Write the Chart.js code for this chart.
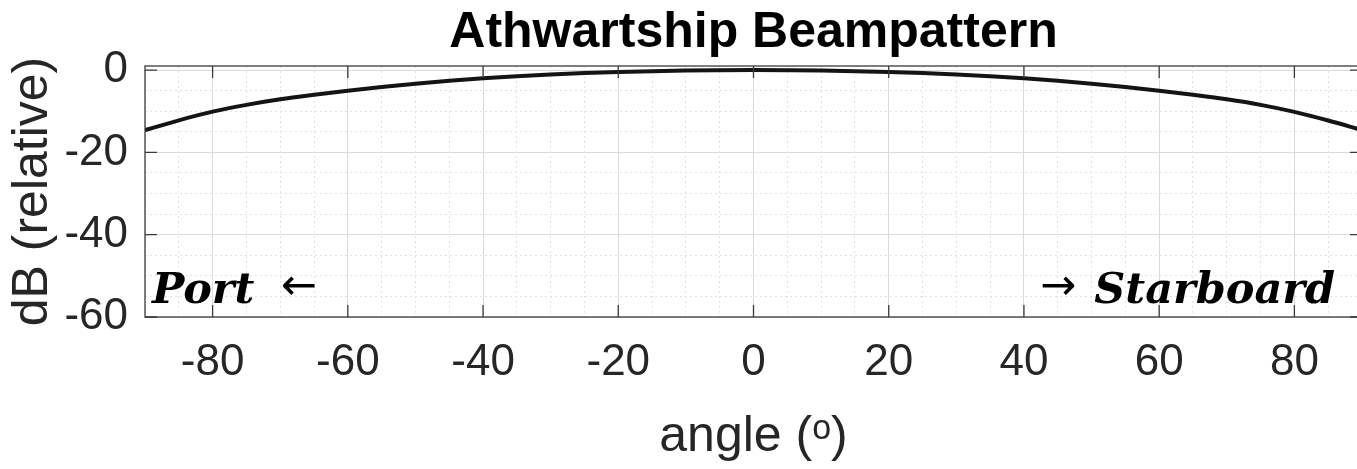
<!DOCTYPE html>
<html>
<head>
<meta charset="utf-8">
<script src="https://cdn.jsdelivr.net/npm/chart.js@4"></script>
<style>
  html, body { margin: 0; padding: 0; background: #fff; overflow: hidden; }
  .wrap { width: 1381px; height: 469px; position: relative; }
  canvas { display: block; }
</style>
</head>
<body>
<div class="wrap"><canvas id="beamChart" width="1381" height="469"></canvas></div>
<script>
// angle in degrees, response in dB relative to peak
const angles = [-90, -85, -80, -75, -70, -65, -60, -55, -50, -45, -40, -35, -30, -25, -20, -15, -10, -5,
                0, 5, 10, 15, 20, 25, 30, 35, 40, 45, 50, 55, 60, 65, 70, 75, 80, 85, 90];
const levels = [-14.6, -12.2, -10.1, -8.45, -7.1, -6.0, -5.0, -4.1, -3.3, -2.6, -2.0, -1.5, -1.05, -0.7, -0.45, -0.25, -0.1, -0.03,
                0, -0.03, -0.1, -0.25, -0.45, -0.7, -1.05, -1.5, -2.0, -2.6, -3.3, -4.1, -5.0, -6.0, -7.1, -8.45, -10.15, -12.25, -14.6];
const xTicks = [-80, -60, -40, -20, 0, 20, 40, 60, 80];
const yTicks = [0, -20, -40, -60];

const textColor = '#262626';
const sans = "'Liberation Sans', Arial, sans-serif";

// MATLAB-style box with inward ticks plus the side labels
const boxPlugin = {
    id: 'boxPlugin',
    afterDatasetsDraw(chart) {
        const { ctx, chartArea: a, scales } = chart;
        ctx.save();
        ctx.strokeStyle = '#3a3a3a';
        ctx.lineWidth = 1.3;
        ctx.strokeRect(a.left, a.top, a.right - a.left, a.bottom - a.top);

        const tl = 12;
        ctx.beginPath();
        xTicks.forEach(v => {
            const px = scales.x.getPixelForValue(v);
            ctx.moveTo(px, a.bottom); ctx.lineTo(px, a.bottom - tl);
            ctx.moveTo(px, a.top); ctx.lineTo(px, a.top + tl);
        });
        yTicks.forEach(v => {
            const py = scales.y.getPixelForValue(v);
            ctx.moveTo(a.left, py); ctx.lineTo(a.left + tl, py);
            ctx.moveTo(a.right, py); ctx.lineTo(a.right - tl, py);
        });
        ctx.stroke();

        // side labels
        const base = a.bottom - 14;
        ctx.fillStyle = '#000';
        ctx.textBaseline = 'alphabetic';
        ctx.font = "italic bold 43px 'DejaVu Serif', serif";
        ctx.textAlign = 'left';
        ctx.fillText('Port', a.left + 7, base);
        ctx.textAlign = 'right';
        ctx.fillText('Starboard', a.right - 27, base);
        const sw = ctx.measureText('Starboard').width;

        ctx.font = "43px 'DejaVu Sans', sans-serif";
        ctx.textAlign = 'left';
        ctx.fillText('\u2190', a.left + 136, base - 4);
        ctx.textAlign = 'right';
        ctx.fillText('\u2192', a.right - 27 - sw - 18, base - 4);
        ctx.restore();
    }
};

const gridColor = (c) => (c.tick && c.tick.value % 20 === 0) ? '#dadada' : '#e2e2e2';
const gridDash = (c) => (c.tick && c.tick.value % 20 !== 0) ? [2, 3] : [];

new Chart(document.getElementById('beamChart'), {
    type: 'line',
    data: {
        labels: angles,
        datasets: [{
            data: angles.map((a, i) => ({ x: a, y: levels[i] })),
            borderColor: '#141414',
            borderWidth: 4,
            pointRadius: 0,
            cubicInterpolationMode: 'monotone',
            fill: false
        }]
    },
    options: {
        responsive: false,
        animation: false,
        layout: { padding: { left: 0, right: 2, top: 0, bottom: 0 } },
        plugins: {
            legend: { display: false },
            tooltip: { enabled: false },
            title: {
                display: true,
                fullSize: false,
                text: 'Athwartship Beampattern',
                color: '#000',
                font: { family: sans, size: 50, weight: 'bold', lineHeight: 1.2 },
                padding: { top: 3, bottom: 3 }
            }
        },
        scales: {
            x: {
                type: 'linear',
                min: -90,
                max: 90,
                afterFit: (s) => { s.height = 152; },
                ticks: {
                    stepSize: 5,
                    autoSkip: false,
                    includeBounds: false,
                    maxRotation: 0,
                    padding: 19,
                    color: textColor,
                    font: { family: sans, size: 44 },
                    callback: (v) => xTicks.includes(v) ? String(v) : ''
                },
                grid: { color: gridColor, lineWidth: 1, drawTicks: false },
                border: { display: false, dash: gridDash },
                title: {
                    display: true,
                    text: 'angle (\u1D52)',
                    color: textColor,
                    font: { family: sans, size: 50, lineHeight: 1.2 },
                    padding: { top: 0, bottom: 2 }
                }
            },
            y: {
                min: -60,
                max: 1,
                afterFit: (s) => { s.width = 145; },
                ticks: {
                    stepSize: 5,
                    autoSkip: false,
                    includeBounds: false,
                    padding: 17,
                    color: textColor,
                    font: { family: sans, size: 44 },
                    callback: (v) => yTicks.includes(v) ? String(v) : ''
                },
                grid: { color: gridColor, lineWidth: 1, drawTicks: false },
                border: { display: false, dash: gridDash },
                title: {
                    display: true,
                    text: 'dB (relative)',
                    color: textColor,
                    font: { family: sans, size: 50, lineHeight: 1.2 },
                    padding: { top: 3, bottom: 0 }
                }
            }
        }
    },
    plugins: [boxPlugin]
});
</script>
</body>
</html>
